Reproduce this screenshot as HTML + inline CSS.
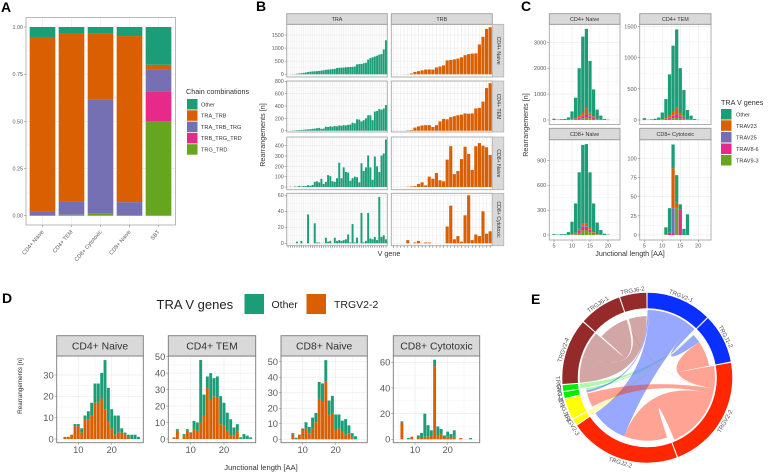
<!DOCTYPE html>
<html lang="en">
<head>
<meta charset="utf-8">
<title>T cell receptor repertoire panels</title>
<style>
html,body{margin:0;padding:0;background:#fff;}
svg{display:block;filter:blur(0.3px);font-family:"Liberation Sans",sans-serif;}
.letter{font-size:14px;font-weight:bold;fill:#000;}
.leg{fill:#333;font-size:5.6px;}
.legt{fill:#333;font-size:7.2px;}
</style>
</head>
<body>
<svg id="fig" xmlns="http://www.w3.org/2000/svg" width="770" height="474" viewBox="0 0 770 474">
<rect width="770" height="474" fill="#fff"/>
<text class="letter" x="1" y="12">A</text>
<text class="letter" x="256" y="11">B</text>
<text class="letter" x="521" y="11">C</text>
<text class="letter" x="2" y="303">D</text>
<text class="letter" x="531" y="304">E</text>

<g>
<text class="legt" x="186" y="94">Chain combinations</text>
<rect x="187" y="99" width="10.5" height="10.5" fill="#1b9e77"/>
<rect x="187" y="110.3" width="10.5" height="10.5" fill="#d95f02"/>
<rect x="187" y="121.6" width="10.5" height="10.5" fill="#7570b3"/>
<rect x="187" y="132.9" width="10.5" height="10.5" fill="#e7298a"/>
<rect x="187" y="144.2" width="10.5" height="10.5" fill="#66a61e"/>
<text class="leg" x="201" y="106.3">Other</text>
<text class="leg" x="201" y="117.6">TRA_TRB</text>
<text class="leg" x="201" y="128.9">TRA_TRB_TRG</text>
<text class="leg" x="201" y="140.2">TRB_TRG_TRD</text>
<text class="leg" x="201" y="151.5">TRG_TRD</text>
</g>

<text x="265" y="135" transform="rotate(-90 265 135)" text-anchor="middle" font-size="7.2" fill="#333">Rearrangements [n]</text>
<text x="389" y="256" text-anchor="middle" font-size="7.2" fill="#333">V gene</text>

<text x="528" y="125" transform="rotate(-90 528 125)" text-anchor="middle" font-size="7.2" fill="#333">Rearrangements [n]</text>
<text x="630" y="256" text-anchor="middle" font-size="7.2" fill="#333">Junctional length [AA]</text>
<g>
<text class="legt" x="721" y="105">TRA V genes</text>
<rect x="721" y="109" width="10.5" height="10.5" fill="#1b9e77"/>
<rect x="721" y="120.3" width="10.5" height="10.5" fill="#d95f02"/>
<rect x="721" y="132" width="10.5" height="10.5" fill="#7570b3"/>
<rect x="721" y="143.5" width="10.5" height="10.5" fill="#e7298a"/>
<rect x="721" y="155" width="10.5" height="10.5" fill="#66a61e"/>
<text class="leg" x="736" y="116.5">Other</text>
<text class="leg" x="736" y="128">TRAV23</text>
<text class="leg" x="736" y="139.5">TRAV25</text>
<text class="leg" x="736" y="151">TRAV8-6</text>
<text class="leg" x="736" y="162.5">TRAV9-3</text>
</g>

<g>
<text x="156.5" y="309" font-size="13" fill="#222">TRA V genes</text>
<rect x="244.5" y="294" width="19.5" height="20" fill="#1b9e77"/>
<text x="271.5" y="308" font-size="10.5" fill="#222">Other</text>
<rect x="306.5" y="294" width="19.5" height="20" fill="#d95f02"/>
<text x="334" y="308" font-size="10.5" fill="#222">TRGV2-2</text>
</g>
<text x="22" y="386" transform="rotate(-90 22 386)" text-anchor="middle" font-size="6.3" fill="#333">Rearrangements [n]</text>
<text x="261" y="470" text-anchor="middle" font-size="7.6" fill="#333">Junctional length [AA]</text>
</svg>
<script>
/* ---------- Panel A data ---------- */
const aCategories = ["CD4+ Naive","CD4+ TEM","CD8+ Cytotoxic","CD8+ Naive","SBT"];
const aTrgTrd    = [0,     0.005, 0.01,  0,     0.50];
const aTrbTrgTrd = [0,     0,     0,     0,     0.16];
const aTraTrbTrg = [0.02,  0.068, 0.605, 0.072, 0.117];
const aTraTrb    = [0.927, 0.895, 0.35,  0.88,  0.023];
const aOther     = [0.053, 0.032, 0.035, 0.048, 0.20];
const aTicks = [0,0.25,0.5,0.75,1];

/* ---------- Panel B data ---------- */
const bRows = ["CD4+ Naive","CD4+ TEM","CD8+ Naive","CD8+ Cytotoxic"];
const bColumns = ["TRA","TRB"];
const bTraNaive4 = [0,2,5,10,20,30,40,55,70,85,100,110,115,120,130,140,155,170,180,190,200,210,240,250,255,260,270,275,280,285,300,380,390,395,420,440,560,620,650,680,710,750,770,950,1300];
const bTraTem4 = [0,0,3,5,8,10,12,15,20,22,25,30,35,40,45,30,35,65,60,70,65,75,70,85,80,90,85,95,100,130,120,185,180,150,170,200,250,250,170,310,320,350,340,360,415];
const bTraNaive8 = [0,3,0,5,3,10,5,10,8,18,12,20,50,55,45,80,30,50,115,105,55,50,85,235,85,190,145,140,60,85,100,95,45,230,155,190,305,190,70,295,200,145,305,325,460];
const bTraCyto = [0,0,0,0,2,0,3,0,0,36,0,0,25,1,1,0,0,7,2,3,0,7,3,4,3,4,5,11,1,24,1,7,0,38,1,3,38,6,5,8,4,58,8,10,5];
const bTrbNaive4 = [0,0,0,2,5,30,90,120,150,180,185,180,260,300,340,530,550,570,600,650,730,770,790,800,1140,1430,1730,1800];
const bTrbTem4 = [0,0,0,0,5,10,50,70,85,90,90,60,90,150,190,185,220,235,250,260,280,275,280,360,370,470,690,770];
const bTrbNaive8 = [0,0,0,0,2,5,8,30,45,15,100,80,135,65,55,265,395,125,155,270,390,320,165,395,425,400,385,310];
const bTrbCyto = [0,0,0,0,4,0,1,3,0,1,1,0,0,0,0,21,47,5,9,2,35,60,4,11,9,40,12,15];
const bTicksNaive4 = [0,500,1000,1500];
const bTicksTem4 = [0,200,400,600,800];
const bTicksNaive8 = [0,100,200,300,400];
const bTicksCyto = [0,20,40,60];

/* ---------- Panel C data (junction lengths 5..21) ---------- */
const cLengths = [5,6,7,8,9,10,11,12,13,14,15,16,17,18,19,20,21];
const cFacets = ["CD4+ Naive","CD4+ TEM","CD8+ Naive","CD8+ Cytotoxic"];
const cNaive4Other = [49,15,30,39,89,299,795,1825,2930,3060,2005,1040,360,156,36,10,0];
const cNaive4T23 = [1,0,0,1,5,10,25,70,120,210,110,50,15,5,2,0,0];
const cNaive4T25 = [0,0,0,0,1,3,5,15,20,40,25,10,5,2,0,0,0];
const cNaive4T86 = [0,0,0,0,2,8,15,50,80,110,70,40,10,4,1,0,0];
const cNaive4T93 = [0,0,0,0,3,10,20,40,70,100,70,40,10,3,1,0,0];
const cTemOther = [29,5,10,20,36,107,304,656,1055,1255,710,428,145,66,15,3,0];
const cTemT23 = [1,0,0,0,2,5,12,30,60,90,50,20,6,2,0,0,0];
const cTemT25 = [0,0,0,0,0,1,3,6,10,15,10,5,2,0,0,0,0];
const cTemT86 = [0,0,0,0,1,3,8,20,35,50,30,15,4,1,0,0,0];
const cTemT93 = [0,0,0,0,1,4,8,18,30,40,30,12,3,1,0,0,0];
const cNaive8Other = [10,5,10,10,32,150,353,681,950,952,665,345,138,56,15,5,0];
const cNaive8T23 = [0,0,0,0,1,3,5,15,25,35,20,8,3,1,0,0,0];
const cNaive8T25 = [0,0,0,0,0,1,2,4,5,8,5,2,1,0,0,0,0];
const cNaive8T86 = [0,0,0,0,1,3,10,30,50,40,30,10,3,1,0,0,0];
const cNaive8T93 = [0,0,0,0,1,3,10,25,55,60,35,15,5,2,0,0,0];
const cCytoOther = [0,0,0,0,0,0,9,32,31,36,7,8,27,0,0,0,0];
const cCytoT23 = [0,0,0,0,0,0,0,0,52,6,0,0,0,0,0,0,0];
const cCytoT25 = [0,0,0,0,0,0,0,0,33,0,0,0,0,0,0,0,0];
const cCytoT86 = [0,0,0,0,0,0,0,3,2,1,33,0,0,0,0,0,0];
const cCytoT93 = [0,0,0,0,0,0,1,0,0,35,0,0,0,0,0,0,0];
const cTicksNaive4 = [0,1000,2000,3000];
const cTicksTem = [0,500,1000,1500];
const cTicksNaive8 = [0,300,600,900];
const cTicksCyto = [0,25,50,75,100];
const cXTicks = [5,10,15,20];

/* ---------- Panel D data (junction lengths 5..28) ---------- */
const dLengths = [5,6,7,8,9,10,11,12,13,14,15,16,17,18,19,20,21,22,23,24,25,26,27,28];
const dNaive4Trg = [0,1,1,2,6,6,3,9,9,11,17,17,19,14,8,5,2,3,3,2,1,0,0,0];
const dNaive4Other = [0,0,0,0,1,1,2,2,4,6,9,9,12,23,16,9,9,8,2,1,1,2,2,1];
const dTemTrg = [1,5,0,2,5,3,6,5,10,14,31,24,26,25,9,8,5,2,2,5,0,0,0,0];
const dTemOther = [0,1,0,1,1,1,5,5,38,13,7,16,11,13,17,14,11,10,5,4,1,3,2,1];
const dNaive8Trg = [0,0,3,0,3,6,7,4,7,11,26,24,37,16,17,6,7,5,3,4,1,0,0,0];
const dNaive8Other = [0,0,1,1,0,1,4,4,7,6,11,12,14,9,11,10,9,7,10,5,3,2,0,0];
const dCytoTrg = [0,13,0,0,2,0,1,1,2,2,3,57,3,4,1,2,1,2,0,1,0,0,0,0];
const dCytoOther = [0,1,0,1,0,0,2,4,18,9,4,5,7,4,2,4,3,5,0,0,0,0,1,0];
const dTicksNaive4 = [0,10,20,30];
const dTicksTen = [0,10,20,30,40,50];
const dTicksCyto = [0,20,40,60];
const dXTicks = [10,20];

/* ---------- Panel E data ---------- */
const sectorNames = ["TRGV2-1","TRGJ1-2","TRGV2-2","TRGJ2-2","TRGV2-3","TRGJ1-1","TRGJ2-1","TRGV3-1","TRGV2-4","TRGJ6-1","TRGJ6-2"];
const sectorValues = [44.5,33.5,79,76,4,14,4,4,45,29,18];
const linkSource = [0,0,2,2,2,2,0,8,8,7,6,4];
const linkTarget = [6,3,1,9,5,3,1,10,9,1,1,1];
const linkSourceValue = [1.5,38,19,0.5,4.5,52.5,4.5,22.5,22.5,4,2,4];
const linkTargetValue = [2,34,23.5,0.5,13,40,8,17,28,0.3,0.3,0.3];

/* ---------- Colours ---------- */
const OTHER="#1b9e77", ORANGE="#d95f02", PURPLE="#7570b3", PINK="#e7298a", GREEN="#66a61e";
const sectorColors=["#0a30ff","#0a30ff","#ff2600","#ff2600","#ffff00","#ffff00","#00ee00","#00ee00","#952a2a","#952a2a","#952a2a"];
const linkDepth=[1,.93,1,.93,1,.92,.92,1,1,.91,.91];
const sectorReversed=[false,true,false,true,false,true,false,false,false,true,true];

/* ---------- Helpers ---------- */
const NS="http://www.w3.org/2000/svg";
const fig=document.getElementById("fig");
function mk(tag,attrs,parent){
  const e=document.createElementNS(NS,tag);
  for(const k in attrs) e.setAttribute(k,attrs[k]);
  (parent||fig).appendChild(e);
  return e;
}
function linear(d0,d1,r0,r1){return v=>r0+(v-d0)*(r1-r0)/(d1-d0);}
function slug(s){return s.toLowerCase().replace(/[^a-z0-9]+/g,"-").replace(/^-|-$/g,"");}

function panelBase(name,box,ys,yTicks,o){
  const g=mk("g",{});
  
  
  mk("rect",{x:box.x0,y:box.y0,width:box.x1-box.x0,height:box.y1-box.y0,fill:"#fff"},g);
  const grid=mk("g",{stroke:"#ececec",fill:"none"},g);
  
  
  for(let i=0;i+1<yTicks.length;i++){
    const m=ys((yTicks[i]+yTicks[i+1])/2);
    mk("line",{x1:box.x0,x2:box.x1,y1:m,y2:m,"stroke-width":.35},grid);
  }
  yTicks.forEach(t=>{
    mk("line",{x1:box.x0,x2:box.x1,y1:ys(t),y2:ys(t),"stroke-width":.7},grid);
  });
  (o.xGrid||[]).forEach(x=>{
    mk("line",{x1:x,x2:x,y1:box.y0,y2:box.y1,"stroke-width":.7},grid);
  });
  (o.xMinor||[]).forEach(x=>{
    mk("line",{x1:x,x2:x,y1:box.y0,y2:box.y1,"stroke-width":.35},grid);
  });
  return g;
}
function yAxis(g,box,ys,yTicks,fs,fmt,name){
  yTicks.forEach(t=>{
    mk("line",{x1:box.x0-2,x2:box.x0,y1:ys(t),y2:ys(t),stroke:"#777","stroke-width":.5},g);
    const tx=mk("text",{x:box.x0-3,y:ys(t)+fs*.36,"text-anchor":"end","font-size":fs,fill:"#5a5a5a"},g);
    
    
    tx.textContent=fmt?fmt(t):t;
  });
}
function xAxis(g,box,xs,xTicks,fs,name){
  xTicks.forEach(t=>{
    mk("line",{x1:xs(t),x2:xs(t),y1:box.y1,y2:box.y1+2,stroke:"#777","stroke-width":.5},g);
    const tx=mk("text",{x:xs(t),y:box.y1+2.5+fs*.85,"text-anchor":"middle","font-size":fs,fill:"#5a5a5a"},g);
    
    
    tx.textContent=t;
  });
}
function border(g,box,stroke,w){
  const r=mk("rect",{x:box.x0,y:box.y0,width:box.x1-box.x0,height:box.y1-box.y0,fill:"none",stroke:stroke,"stroke-width":w},g);
  
  
}
function topStrip(g,box,top,label,fs,stroke,w){
  const r=mk("rect",{x:box.x0,y:top,width:box.x1-box.x0,height:box.y0-top,fill:"#d9d9d9",stroke:stroke,"stroke-width":w},g);
  
  
  const t=mk("text",{x:(box.x0+box.x1)/2,y:(top+box.y0)/2+fs*.36,"text-anchor":"middle","font-size":fs,fill:"#333"},g);
  
  
  t.textContent=label;
}
function stackBars(g,series,colors,names,xs,unit,ys,barFrac){
  const n=series[0].length;
  for(let i=0;i<n;i++){
    let cum=0;
    series.forEach((arr,k)=>{
      const v=arr[i];
      if(v>0){
        const yTop=ys(cum+v), yBot=ys(cum);
        const r=mk("rect",{x:xs(i)-unit*barFrac/2,y:yTop,width:unit*barFrac,height:yBot-yTop,fill:colors[k]},g);
        
        
      }
      cum+=v;
    });
  }
}

/* ---------- Panel A ---------- */
(function(){
  const box={x0:26,x1:175.5,y0:17.5,y1:225};
  const ys=linear(0,1,215.7,27);
  const step=29, xs=i=>42.5+i*step;
  const g=panelBase("stacked-chain-chart",box,ys,aTicks,{xGrid:aCategories.map((c,i)=>xs(i))});
  stackBars(g,[aTrgTrd,aTrbTrgTrd,aTraTrbTrg,aTraTrb,aOther],[GREEN,PINK,PURPLE,ORANGE,OTHER],
    ["trg-trd","trb-trg-trd","tra-trb-trg","tra-trb","other"],xs,step,ys,.885);
  border(g,box,"#a8a8a8",.8);
  yAxis(g,box,ys,aTicks,5.4,v=>v.toFixed(2),"panel-a");
  aCategories.forEach((c,i)=>{
    mk("line",{x1:xs(i),x2:xs(i),y1:box.y1,y2:box.y1+2,stroke:"#777","stroke-width":.5},g);
    const t=mk("text",{x:xs(i)+1.5,y:box.y1+7,"text-anchor":"end","font-size":5.6,fill:"#5a5a5a",transform:`rotate(-50 ${xs(i)+1.5} ${box.y1+7})`},g);
    
    
    t.textContent=c;
  });
})();

/* ---------- Panel B ---------- */
(function(){
  const colX=[[286.7,387.3],[391.3,492.3]];
  const rowY=[[24.3,77],[81,132],[137,189.7],[193.3,245.7]];
  const yMaps=[linear(0,1500,74.3,35),linear(0,800,130.7,81.3),linear(0,400,187,145.7),linear(0,60,243.3,195.3)];
  const tickSets=[bTicksNaive4,bTicksTem4,bTicksNaive8,bTicksCyto];
  const data=[[bTraNaive4,bTrbNaive4],[bTraTem4,bTrbTem4],[bTraNaive8,bTrbNaive8],[bTraCyto,bTrbCyto]];
  const colors=[OTHER,ORANGE];
  rowY.forEach((ry,r)=>{
    colX.forEach((cx,c)=>{
      const box={x0:cx[0],x1:cx[1],y0:ry[0],y1:ry[1]};
      const arr=data[r][c];
      const n=arr.length, unit=(cx[1]-cx[0])/(n-1+1.2);
      const xs=i=>cx[0]+(i+.6)*unit;
      const g=panelBase("facet-"+slug(bRows[r])+"-"+slug(bColumns[c]),box,yMaps[r],tickSets[r],{xGrid:arr.map((v,i)=>xs(i))});
      stackBars(g,[arr],[colors[c]],[slug(bColumns[c])],xs,unit,yMaps[r],.88);
      border(g,box,"#a8a8a8",.9);
      if(c===0) yAxis(g,box,yMaps[r],tickSets[r],5.3,null,"panel-b");
      if(r===3){
        arr.forEach((v,i)=>{
          mk("line",{x1:xs(i),x2:xs(i),y1:box.y1,y2:box.y1+2,stroke:"#666","stroke-width":.55},g);
        });
      }
      if(r===0) topStrip(g,box,13.7,bColumns[c],5.4,"#a0a0a0",.9);
      if(c===1){
        const s=mk("rect",{x:box.x1,y:box.y0,width:11.5,height:box.y1-box.y0,fill:"#d9d9d9",stroke:"#b0b0b0","stroke-width":.7},g);
        
        
        const tx=box.x1+5.75, ty=(box.y0+box.y1)/2;
        const t=mk("text",{x:tx,y:ty,"text-anchor":"middle","dominant-baseline":"central","font-size":5.2,fill:"#333",transform:`rotate(90 ${tx} ${ty})`},g);
        
        
        t.textContent=bRows[r];
      }
    });
  });
})();

/* ---------- Panel C ---------- */
(function(){
  const boxes=[{x0:549.3,x1:620,y0:24.3,y1:124.5},{x0:639.7,x1:711,y0:24.3,y1:124.5},{x0:549.3,x1:620,y0:139.7,y1:240},{x0:639.7,x1:711,y0:139.7,y1:240}];
  const tops=[13.7,13.7,128.3,128.3];
  const yMaps=[linear(0,3000,120,42.3),linear(0,1500,120,26.3),linear(0,900,235,160.3),linear(0,100,235,158.3)];
  const tickSets=[cTicksNaive4,cTicksTem,cTicksNaive8,cTicksCyto];
  const origins=[554,644.3,554,644.3];
  const data=[
    [cNaive4T93,cNaive4T86,cNaive4T25,cNaive4T23,cNaive4Other],
    [cTemT93,cTemT86,cTemT25,cTemT23,cTemOther],
    [cNaive8T93,cNaive8T86,cNaive8T25,cNaive8T23,cNaive8Other],
    [cCytoT93,cCytoT86,cCytoT25,cCytoT23,cCytoOther]];
  boxes.forEach((box,f)=>{
    const xv=linear(5,20,origins[f],origins[f]+54);
    const xs=i=>xv(cLengths[i]);
    const g=panelBase("facet-c-"+slug(cFacets[f]),box,yMaps[f],tickSets[f],{xGrid:cXTicks.map(xv),xMinor:[7.5,12.5,17.5,22.5].map(xv)});
    stackBars(g,data[f],[GREEN,PINK,PURPLE,ORANGE,OTHER],["trav9-3","trav8-6","trav25","trav23","other"],xs,3.6,yMaps[f],.9);
    border(g,box,"#a8a8a8",.9);
    yAxis(g,box,yMaps[f],tickSets[f],5.6,null,"panel-c");
    if(f>1) xAxis(g,box,xv,cXTicks,5.6,"panel-c");
    topStrip(g,box,tops[f],cFacets[f],5.4,"#999",.9);
  });
})();

/* ---------- Panel D ---------- */
(function(){
  const boxes=[{x0:56.7,x1:143.3},{x0:168.3,x1:255.7},{x0:281,x1:367.3},{x0:393.3,x1:479.7}];
  const tenPos=[78.3,190.7,302.7,415], twentyPos=[111.7,224,335.7,447.7];
  const yMaps=[linear(0,30,439,375),linear(0,50,439,356.7),linear(0,50,439.3,361.7),linear(0,60,439.3,362.3)];
  const tickSets=[dTicksNaive4,dTicksTen,dTicksTen,dTicksCyto];
  const data=[[dNaive4Trg,dNaive4Other],[dTemTrg,dTemOther],[dNaive8Trg,dNaive8Other],[dCytoTrg,dCytoOther]];
  boxes.forEach((b,f)=>{
    const box={x0:b.x0,x1:b.x1,y0:356,y1:442.7};
    const xv=linear(10,20,tenPos[f],twentyPos[f]);
    const xs=i=>xv(dLengths[i]);
    const g=panelBase("facet-d-"+slug(cFacets[f]),box,yMaps[f],tickSets[f],{xGrid:dXTicks.map(xv),xMinor:[5,15,25].map(xv)});
    stackBars(g,data[f],[ORANGE,OTHER],["trgv2-2","other"],xs,3.32,yMaps[f],.88);
    border(g,box,"#7a7a7a",.9);
    yAxis(g,box,yMaps[f],tickSets[f],9.4,null,"panel-d");
    xAxis(g,box,xv,dXTicks,9.4,"panel-d");
    topStrip(g,box,335.7,cFacets[f],10.4,"#7a7a7a",.9);
  });
})();

/* ---------- Panel E chord diagram ---------- */
(function(){
  const cx=647.3, cy=377.7, R1=85, R0=69.5, RL=67.7;
  const total=sectorValues.reduce((a,b)=>a+b,0);
  const gap=(360-total)/sectorValues.length;
  const pt=(a,r)=>{const t=a*Math.PI/180;return [cx+r*Math.sin(t),cy-r*Math.cos(t)];};
  const g=mk("g",{});
  
  
  const paleLayer=mk("g",{},g);
  
  
  const mainLayer=mk("g",{},g);
  
  
  const starts=[]; let acc=0.2;
  sectorValues.forEach(v=>{starts.push(acc);acc+=v+gap;});
  const cursor=sectorValues.map((v,i)=>sectorReversed[i]?starts[i]+v:starts[i]);
  function take(s,v){
    if(sectorReversed[s]){cursor[s]-=v;return [cursor[s],cursor[s]+v];}
    const a=cursor[s];cursor[s]+=v;return [a,a+v];
  }
  const fmt=p=>p[0].toFixed(2)+" "+p[1].toFixed(2);
  linkSource.forEach((s,i)=>{
    const t=linkTarget[i];
    const A=take(s,linkSourceValue[i]), B=take(t,linkTargetValue[i]);
    const ra=RL*linkDepth[s], rb=RL*linkDepth[t];
    const d=`M${fmt(pt(A[0],ra))}A${ra} ${ra} 0 0 1 ${fmt(pt(A[1],ra))}Q${cx} ${cy} ${fmt(pt(B[0],rb))}A${rb} ${rb} 0 0 1 ${fmt(pt(B[1],rb))}Q${cx} ${cy} ${fmt(pt(A[0],ra))}Z`;
    const minor=(s===4||s===6||s===7);
    const p=mk("path",{d:d,fill:sectorColors[s],"fill-opacity":minor?.32:.42},minor?paleLayer:mainLayer);
    
    
  });
  sectorValues.forEach((v,i)=>{
    const a0=starts[i], a1=a0+v;
    const large=v>180?1:0;
    const d=`M${fmt(pt(a0,R1))}A${R1} ${R1} 0 ${large} 1 ${fmt(pt(a1,R1))}L${fmt(pt(a1,R0))}A${R0} ${R0} 0 ${large} 0 ${fmt(pt(a0,R0))}Z`;
    const p=mk("path",{d:d,fill:sectorColors[i]},g);
    
    
    const m=(a0+a1)/2, lower=m>90&&m<270;
    const rot=lower?m-180:m;
    const off=lower?R1+1.5+4.4:R1+1.5;
    const q=pt(m,off);
    const t=mk("text",{x:q[0],y:q[1],"text-anchor":"middle","font-size":6,fill:"#555",transform:`rotate(${rot} ${q[0]} ${q[1]})`},g);
    
    
    t.textContent=sectorNames[i];
  });
})();
</script>
</body>
</html>
